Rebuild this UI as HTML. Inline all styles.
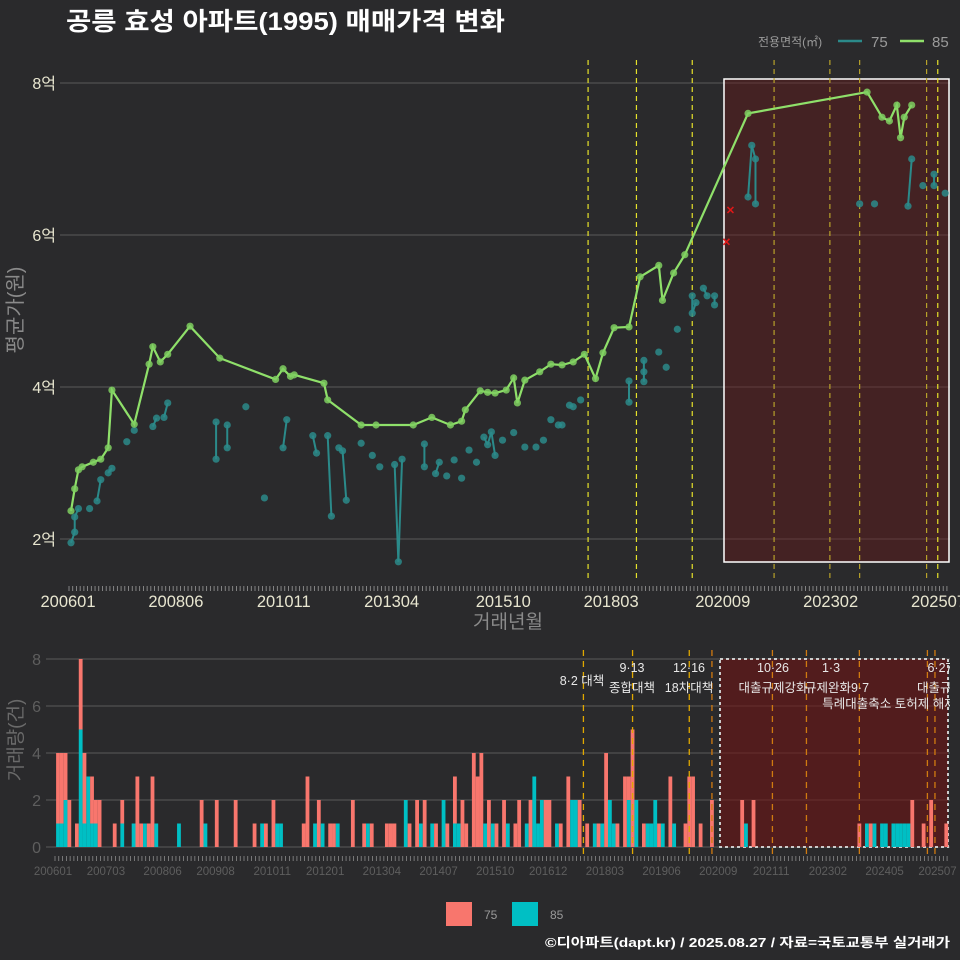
<!DOCTYPE html>
<html><head><meta charset="utf-8">
<style>
html,body{margin:0;padding:0;background:#2a2a2c;}
svg{display:block;font-family:"Liberation Sans","Noto Sans CJK KR",sans-serif;}
</style></head>
<body>
<svg id="chart" width="960" height="960" viewBox="0 0 960 960" xmlns="http://www.w3.org/2000/svg">
<rect x="0" y="0" width="960" height="960" fill="#2a2a2c"/>
<text x="66" y="30" fill="#ffffff" font-size="25" font-weight="bold" textLength="439" lengthAdjust="spacingAndGlyphs">공릉 효성 아파트(1995) 매매가격 변화</text>
<g>
<text x="758" y="46" fill="#9a9a9a" font-size="12">전용면적(㎡)</text>
<line x1="838" y1="41" x2="862" y2="41" stroke="#2b8a8a" stroke-width="2.5"/>
<text x="871" y="47" fill="#9a9a9a" font-size="15">75</text>
<line x1="900" y1="41" x2="924" y2="41" stroke="#8fe06a" stroke-width="2.5"/>
<text x="932" y="47" fill="#9a9a9a" font-size="15">85</text>
</g>
<g id="topPanel"></g>
<g id="botPanel"></g>
<g>
<rect x="446" y="902" width="26" height="24" fill="#F8766D"/>
<text x="484" y="919" fill="#9a9a9a" font-size="12">75</text>
<rect x="512" y="902" width="26" height="24" fill="#00BFC4"/>
<text x="550" y="919" fill="#9a9a9a" font-size="12">85</text>
</g>
<text x="545" y="947" fill="#ffffff" font-size="13" font-weight="bold" textLength="405" lengthAdjust="spacingAndGlyphs">©디아파트(dapt.kr) / 2025.08.27 / 자료=국토교통부 실거래가</text>
</svg>
<script>
// ---- price panel data (억) ----
const months85 = ["200601","200602","200603","200604","200607","200609","200611","200612","200706","200710","200711","200801","200803","200809","200905","201008","201010","201012","201101","201109","201110","201207","201211","201309","201402","201407","201410","201411","201503","201505","201507","201510","201512","201601","201603","201607","201610","201701","201704","201707","201710","201712","201803","201807","201810","201903","201904","201907","201910","202103","202311","202403","202405","202407","202408","202409","202411"];
const price85 = [2.37,2.66,2.91,2.95,3.01,3.05,3.2,3.96,3.51,4.3,4.53,4.33,4.43,4.8,4.38,4.1,4.24,4.14,4.16,4.05,3.83,3.5,3.5,3.5,3.6,3.5,3.55,3.7,3.95,3.93,3.92,3.96,4.12,3.79,4.09,4.2,4.3,4.29,4.33,4.43,4.11,4.45,4.78,4.79,5.45,5.6,5.14,5.5,5.74,7.6,7.88,7.55,7.5,7.71,7.28,7.55,7.71];
const months75 = ["200601","200602","200602","200603","200606","200608","200609","200611","200612","200704","200706","200711","200712","200802","200803","200904","200904","200907","200907","200912","201005","201010","201011","201106","201107","201110","201111","201201","201202","201203","201207","201210","201212","201304","201305","201306","201312","201312","201403","201404","201406","201408","201410","201412","201502","201504","201505","201506","201507","201509","201512","201603","201606","201608","201610","201612","201701","201703","201704","201706","201807","201807","201811","201811","201811","201903","201905","201908","201912","201912","202001","202003","202004","202006","202006","202103","202104","202105","202105","202309","202401","202410","202411","202502","202505","202505","202508"];
const price75 = [1.95,2.09,2.29,2.4,2.4,2.5,2.78,2.87,2.93,3.28,3.43,3.48,3.59,3.6,3.79,3.54,3.05,3.5,3.2,3.74,2.54,3.2,3.57,3.36,3.13,3.36,2.3,3.2,3.16,2.51,3.26,3.1,2.95,2.98,1.7,3.05,3.25,2.95,2.86,3.01,2.83,3.04,2.8,3.17,3.01,3.34,3.24,3.41,3.1,3.3,3.4,3.21,3.21,3.3,3.57,3.5,3.5,3.76,3.74,3.83,3.8,4.08,4.07,4.2,4.35,4.46,4.26,4.76,5.2,4.97,5.11,5.3,5.2,5.2,5.08,6.5,7.18,7.0,6.41,6.41,6.41,6.38,7.0,6.65,6.8,6.65,6.55];
const crossMonths = ["202010","202010"];
const crossPrices = [6.33,5.91];
const yTicks = [2,4,6,8];
const topXLabels = ["200601","200806","201011","201304","201510","201803","202009","202302","202507"];
const topPolicyMonths = ["201708","201809","201912","202110","202301","202309","202503","202506"];
// ---- volume panel data: month index (months since 2006-01), counts ----
const barMonths = [0,1,2,3,5,6,7,8,9,10,11,15,17,20,21,22,23,24,25,26,32,38,39,42,47,52,54,55,57,58,59,65,66,68,69,70,72,73,74,78,81,82,83,87,88,89,92,93,95,96,97,99,100,102,103,105,106,107,108,110,111,112,113,114,115,116,118,119,121,122,124,125,126,127,128,129,130,132,133,135,136,137,138,140,142,143,144,145,146,147,148,150,151,152,153,155,156,157,158,159,160,162,163,166,167,168,170,173,181,182,184,212,214,215,216,218,219,221,222,223,224,225,226,229,231,235];
const count75 = [3,3,2,2,1,3,3,0,2,1, 2,1,1,0,3,1,0,1,3,0, 0,2,0,2,2,1,0,1,2,0, 0,1,3,0,2,0,1,1,0,2, 1,0,1,1,1,1,0,1,2,0, 2,0,1,0,1,2,0,2,1,4, 3,4,0,2,0,1,2,0,1,2, 0,2,0,0,0,2,2,0,1,3, 0,0,2,1,0,1,0,4,0,0, 1,3,1,5,0,1,0,0,0,1, 0,3,0,1,3,3,1,2,2,0, 2,1,0,1,0,0,0,0,0,0, 0,0,2,1,2,1];
const count85 = [1,1,2,0,0,5,1,3,1,1, 0,0,1,1,0,0,1,0,0,1, 1,0,1,0,0,0,1,0,0,1, 1,0,0,1,0,1,0,0,1,0, 0,1,0,0,0,0,2,0,0,1, 0,1,0,2,0,1,1,0,0,0, 0,0,1,0,1,0,0,1,0,0, 1,0,3,1,2,0,0,1,0,0, 2,2,0,0,1,0,1,0,2,1, 0,0,2,0,2,0,1,1,2,0, 1,0,1,0,0,0,0,0,0,1, 0,0,1,0,1,1,1,1,1,1, 1,1,0,0,0,0];
const yTicksBot = [0,2,4,6,8];
const botXLabels = ["200601","200703","200806","200908","201011","201201","201304","201407","201510","201612","201803","201906","202009","202111","202302","202405","202507"];
const botPolicyMonths = [139,152,167,173,189,198,212,230,232];
const annoMonths = [139,152,152,167,167,189,189,204,204,212,220,233,233];
const annoTexts = ["8·2 대책","9·13","종합대책","12·16","18차대책","10·26","대출규제강화","1·3","규제완화","9·7","특례대출축소 토허제 해제","6·27","대출규제"];
const annoRows = [1,0,1,0,1,0,1,0,1,1,2,0,1];

const NS="http://www.w3.org/2000/svg";
function mk(parent,tag,attrs){const e=document.createElementNS(NS,tag);for(const k in attrs)e.setAttribute(k,attrs[k]);parent.appendChild(e);return e;}
function midx(s){return (parseInt(s.slice(0,4))-2006)*12+parseInt(s.slice(4,6))-1;}
const xT=m=>71+m*3.72;
const yT=v=>539-(v-2)*76;
const xB=m=>58+m*3.78;
const yB=v=>847-v*23.5;

const tp=document.getElementById('topPanel');
yTicks.forEach(v=>{
  let l=mk(tp,'line',{x1:60,x2:950,y1:yT(v),y2:yT(v),stroke:'#5a5a5a','stroke-width':1});
  
  
  let t=mk(tp,'text',{x:56,y:yT(v)+6,'text-anchor':'end',fill:'#e8e6d0','font-size':16});
  t.textContent=v+'억';
  
  
});
let hb=mk(tp,'rect',{x:724,y:79,width:225,height:483,fill:'rgba(110,20,20,0.38)',stroke:'#ffffff','stroke-width':1.5});


topPolicyMonths.forEach((s,i)=>{
  const x=xT(midx(s));
  let l=mk(tp,'line',{x1:x,x2:x,y1:60,y2:580,stroke:(i<3||i==7)?'#e6e22a':'#b8a22a','stroke-width':1.2,'stroke-dasharray':'5,4'});
  
  
});
for(let m=0;m<=236;m++){
  let l=mk(tp,'line',{x1:xT(m)-2,x2:xT(m)-2,y1:586,y2:591,stroke:'#9a9a9a','stroke-width':0.8});
  
  
}
topXLabels.forEach(s=>{
  let t=mk(tp,'text',{x:xT(midx(s))-3,y:607,'text-anchor':'middle',fill:'#e8e6d0','font-size':16.5});
  t.textContent=s;
  
  
});
let xt=mk(tp,'text',{x:508,y:628,'text-anchor':'middle',fill:'#8a8a8a','font-size':19});
xt.textContent='거래년월';


let yt=mk(tp,'text',{x:0,y:0,'text-anchor':'middle',fill:'#8a8a8a','font-size':20,transform:'translate(22,310) rotate(-90)'});
yt.textContent='평균가(원)';


for(let i=1;i<months75.length;i++){
  const a=midx(months75[i-1]),b=midx(months75[i]);
  if(b-a<=1){
    let l=mk(tp,'line',{x1:xT(a),y1:yT(price75[i-1]),x2:xT(b),y2:yT(price75[i]),stroke:'#2b8a8a','stroke-width':2});
    
    
  }
}
months75.forEach((s,i)=>{
  let c=mk(tp,'circle',{cx:xT(midx(s)),cy:yT(price75[i]),r:3.6,fill:'#2b8a8a','fill-opacity':0.85});
  
  
});
let d=months85.map((s,i)=>(i?'L':'M')+xT(midx(s)).toFixed(1)+','+yT(price85[i]).toFixed(1)).join(' ');
let p=mk(tp,'path',{d:d,fill:'none',stroke:'#8fe06a','stroke-width':2.2});


months85.forEach((s,i)=>{
  let c=mk(tp,'circle',{cx:xT(midx(s)),cy:yT(price85[i]),r:3.6,fill:'#7fcf60','fill-opacity':0.85});
  
  
});
crossMonths.forEach((s,i)=>{
  const x=xT(midx(s))+(i?-3:1),y=yT(crossPrices[i]);
  let c=mk(tp,'path',{d:`M${x-3},${y-3}L${x+3},${y+3}M${x-3},${y+3}L${x+3},${y-3}`,stroke:'#e01818','stroke-width':1.5});
  
  
});

const bp=document.getElementById('botPanel');
yTicksBot.forEach(v=>{
  let l=mk(bp,'line',{x1:46,x2:950,y1:yB(v),y2:yB(v),stroke:'#5a5a5a','stroke-width':1});
  
  
  let t=mk(bp,'text',{x:41,y:yB(v)+6,'text-anchor':'end',fill:'#5e5e5e','font-size':16});
  t.textContent=v;
  
  
});
let bb=mk(bp,'rect',{x:720,y:659,width:228,height:188,fill:'rgba(110,20,20,0.6)',stroke:'#cccccc','stroke-width':2,'stroke-dasharray':'3,3'});


barMonths.forEach((m,i)=>{
  const x=xB(m)-1.9,w=3.8;
  const c85=count85[i]||0,c75=count75[i]||0;
  if(c85>0){
    let r=mk(bp,'rect',{x:x,y:yB(c85),width:w,height:c85*23.5,fill:'#00BFC4'});
    
    
  }
  if(c75>0){
    let r=mk(bp,'rect',{x:x,y:yB(c85+c75),width:w,height:c75*23.5,fill:'#F8766D'});
    
    
  }
});
botPolicyMonths.forEach((m,i)=>{
  let l=mk(bp,'line',{x1:xB(m),x2:xB(m),y1:650,y2:857,stroke:i<3?'#e0a800':'#d07a10','stroke-width':1.3,'stroke-dasharray':'6,5'});
  
  
});
for(let m=0;m<=236;m++){
  let l=mk(bp,'line',{x1:xB(m)-3,x2:xB(m)-3,y1:856,y2:861,stroke:'#9a9a9a','stroke-width':0.7});
  
  
}
botXLabels.forEach(s=>{
  let t=mk(bp,'text',{x:xB(midx(s))-5,y:875,'text-anchor':'middle',fill:'#5e5e5e','font-size':11.5});
  t.textContent=s;
  
  
});
let byt=mk(bp,'text',{x:0,y:0,'text-anchor':'middle',fill:'#6a6a6a','font-size':19,transform:'translate(22,740) rotate(-90)'});
byt.textContent='거래량(건)';


const clip=mk(bp,'clipPath',{id:'bclip'});
mk(clip,'rect',{x:0,y:640,width:950,height:230});
const ag=mk(bp,'g',{'clip-path':'url(#bclip)'});
const annoX=[582,632,632,689,689,773,773,831,828,860,889,940,940];
annoTexts.forEach((s,i)=>{
  let t=mk(ag,'text',{x:annoX[i],y:[672,692,708][annoRows[i]]-(i==0?7:0),'text-anchor':'middle',fill:'#e8e8e8','font-size':12.5});
  t.textContent=s;
  
  
});
</script>
</body></html>
